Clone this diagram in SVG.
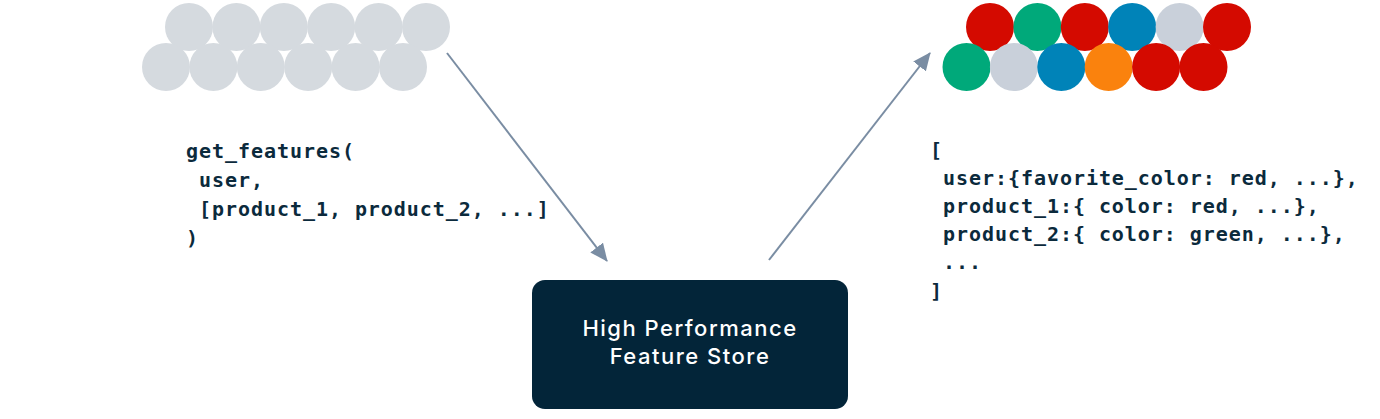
<svg xmlns="http://www.w3.org/2000/svg" width="1380" height="419" viewBox="0 0 1380 419">
<style>
.code{font-family:"DejaVu Sans Mono","Liberation Mono",monospace;font-weight:bold;font-size:20px;letter-spacing:0.95px;fill:#0B2A3C;white-space:pre}
.lbl{font-family:Inter,"Noto Sans",sans-serif;font-weight:500;font-size:22px;letter-spacing:1.5px;fill:#FFFFFF;text-anchor:middle}
.g{fill:#D5DADF}.r{fill:#D40A00}.gr{fill:#00A97A}.b{fill:#0083B8}.s{fill:#C9D0DA}.o{fill:#FA820D}
.conn{stroke:#7A8DA3;stroke-width:2;fill:none}
</style>
<defs>
<marker id="ah" viewBox="0 0 18 16" refX="17" refY="8" markerWidth="18" markerHeight="16" markerUnits="userSpaceOnUse" orient="auto">
<path d="M0,0 L18,8 L0,16 z" fill="#7A8DA3"/>
</marker>
</defs>
<g id="input-entities">
<circle class="g" cx="189" cy="27" r="24"/><circle class="g" cx="236.4" cy="27" r="24"/><circle class="g" cx="283.8" cy="27" r="24"/><circle class="g" cx="331.2" cy="27" r="24"/><circle class="g" cx="378.6" cy="27" r="24"/><circle class="g" cx="426" cy="27" r="24"/>
<circle class="g" cx="166" cy="67" r="24"/><circle class="g" cx="213.4" cy="67" r="24"/><circle class="g" cx="260.8" cy="67" r="24"/><circle class="g" cx="308.2" cy="67" r="24"/><circle class="g" cx="355.6" cy="67" r="24"/><circle class="g" cx="403" cy="67" r="24"/>
</g>
<g id="output-features">
<circle class="r" cx="990" cy="27" r="24"/><circle class="gr" cx="1037.4" cy="27" r="24"/><circle class="r" cx="1084.8" cy="27" r="24"/><circle class="b" cx="1132.2" cy="27" r="24"/><circle class="s" cx="1179.6" cy="27" r="24"/><circle class="r" cx="1227" cy="27" r="24"/>
<circle class="gr" cx="966.5" cy="67" r="24"/><circle class="s" cx="1013.9" cy="67" r="24"/><circle class="b" cx="1061.3" cy="67" r="24"/><circle class="o" cx="1108.7" cy="67" r="24"/><circle class="r" cx="1156.1" cy="67" r="24"/><circle class="r" cx="1203.5" cy="67" r="24"/>
</g>
<g id="request-code">
<text class="code" x="186" y="158">get_features(</text>
<text class="code" x="186" y="187"> user,</text>
<text class="code" x="186" y="216"> [product_1, product_2, ...]</text>
<text class="code" x="186" y="245">)</text>
</g>
<g id="response-code">
<text class="code" x="930" y="157">[</text>
<text class="code" x="930" y="185"> user:{favorite_color: red, ...},</text>
<text class="code" x="930" y="213"> product_1:{ color: red, ...},</text>
<text class="code" x="930" y="241"> product_2:{ color: green, ...},</text>
<text class="code" x="930" y="269"> ...</text>
<text class="code" x="930" y="298">]</text>
</g>
<g id="feature-store">
<rect x="532" y="280" width="316" height="129" rx="13" fill="#032539"/>
<text class="lbl" x="690" y="336">High Performance</text>
<text class="lbl" x="690" y="364">Feature Store</text>
</g>
<g id="connectors">
<line class="conn" x1="447" y1="53" x2="607" y2="261" marker-end="url(#ah)"/>
<line class="conn" x1="769" y1="260" x2="930" y2="53" marker-end="url(#ah)"/>
</g>
</svg>
